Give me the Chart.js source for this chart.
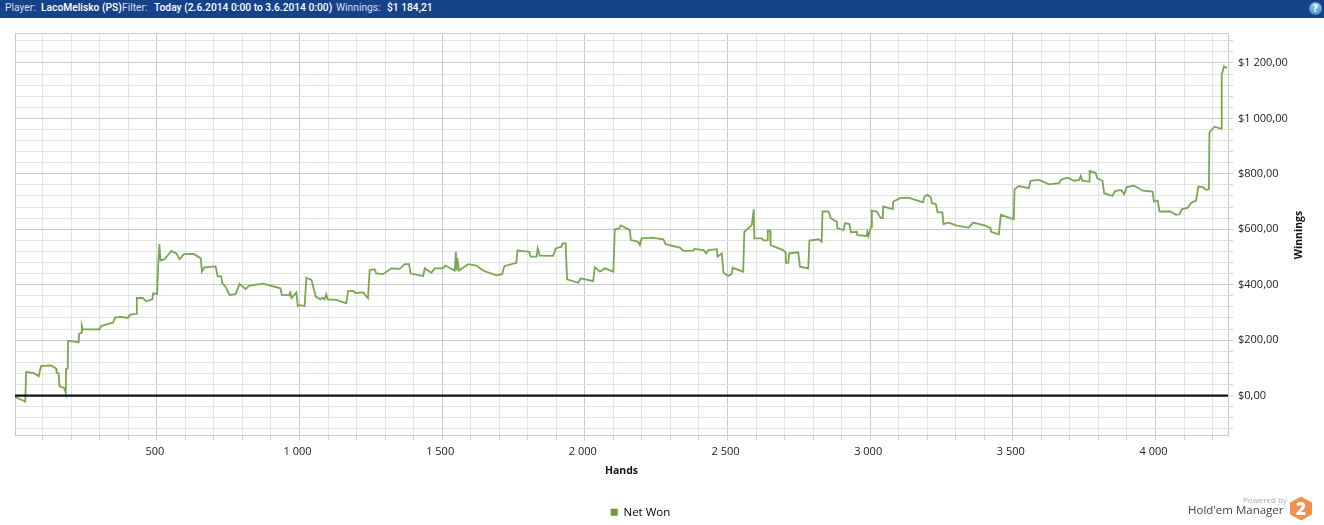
<!DOCTYPE html>
<html><head><meta charset="utf-8">
<script src="https://cdn.jsdelivr.net/npm/chart.js@4/dist/chart.umd.min.js"></script>
<style>
html,body{margin:0;padding:0;background:#fff;width:1324px;height:525px;overflow:hidden;font-family:"Open Sans",sans-serif}
#bar{position:absolute;left:0;top:0;width:1324px;height:18px;background:#16428a;color:#d5deee;font-family:Roboto,sans-serif;font-size:10.25px;line-height:16px;white-space:pre}
#bar span{position:absolute;top:0}
#bar b{font-weight:500;color:#fff}
#wrap{position:absolute;left:0;top:0;width:1324px;height:525px}
#help{position:absolute;left:1309px;top:2px;width:13px;height:13px;border-radius:50%;background:radial-gradient(circle at 50% 35%,#9fd0ee,#2a7fb8);color:#fff;font-size:10px;font-weight:700;line-height:13px;text-align:center}
#by{position:absolute;left:1243px;top:494px;font-size:8px;color:#aaa}
#hem{position:absolute;left:1188px;top:502px;font-size:11.5px;letter-spacing:0;color:#444}
#logo{position:absolute;left:1289px;top:496px}
</style></head><body>
<div id="wrap"><canvas id="c" width="1324" height="525"></canvas></div>
<div id="bar"><span style="left:5px">Player:</span><span style="left:41px"><b>LacoMelisko (PS)</b></span><span style="left:122px">Filter:</span><span style="left:154px"><b>Today (2.6.2014 0:00 to 3.6.2014 0:00)</b></span><span style="left:336px">Winnings:</span><span style="left:387px"><b>$1 184,21</b></span></div>
<div id="help">?</div>
<div id="by">Powered by</div>
<div id="hem">Hold'em Manager</div>
<svg id="logo" width="24" height="25" viewBox="0 0 24 25"><polygon points="12,0.5 23,6.5 23,18.5 12,24.5 1,18.5 1,6.5" fill="#f0914f"/><text x="12" y="18.5" font-family="Open Sans" font-weight="800" font-size="17" fill="#fff" text-anchor="middle">2</text></svg>
<script>
const hands=[3,39,42,71,86,94,130,147,149,156,159,176,181,182,188,189,226,228,236,237,240,299,305,346,355,375,398,407,428,430,451,463,484,487,501,505,509,513,527,551,568,580,595,629,654,658,667,706,713,726,729,743,755,776,790,811,823,872,933,938,963,968,972,989,994,1001,1018,1024,1042,1057,1073,1080,1088,1094,1099,1129,1164,1170,1187,1197,1223,1240,1246,1263,1269,1293,1322,1351,1369,1384,1389,1433,1439,1462,1474,1503,1511,1544,1548,1551,1553,1559,1591,1620,1643,1690,1710,1718,1760,1764,1805,1810,1831,1835,1842,1889,1898,1918,1922,1933,1934,1938,1977,1986,2029,2035,2053,2070,2100,2105,2120,2126,2158,2161,2187,2193,2199,2234,2275,2283,2333,2345,2380,2384,2416,2425,2433,2463,2465,2480,2486,2503,2515,2518,2555,2559,2585,2592,2594,2620,2628,2640,2641,2649,2651,2695,2704,2705,2713,2716,2748,2754,2783,2787,2819,2830,2833,2854,2862,2883,2885,2906,2912,2927,2933,2953,2955,2988,2990,2994,3003,3006,3023,3037,3044,3046,3079,3081,3105,3134,3185,3190,3201,3213,3216,3230,3236,3253,3257,3275,3304,3345,3361,3404,3422,3424,3451,3458,3503,3506,3521,3556,3562,3591,3627,3662,3668,3691,3715,3733,3738,3744,3767,3769,3790,3796,3814,3820,3849,3858,3879,3890,3899,3925,3955,3990,3994,4008,4014,4052,4072,4084,4092,4113,4125,4142,4150,4166,4177,4187,4189,4207,4231,4232,4240,4250];
const netWon=[-4,-22,86,80,70,106,109,98,82,80,34,27,8,96,98,198,192,223,227,252,240,239,251,263,282,284,280,292,295,352,352,340,347,369,366,477,547,487,492,522,513,492,510,511,495,447,463,466,431,429,407,389,363,366,403,384,396,404,387,363,362,372,352,372,323,326,323,425,417,357,347,353,347,366,347,345,333,377,378,370,372,351,453,456,441,438,459,457,474,474,441,431,459,443,459,459,469,451,519,451,496,451,474,469,451,434,438,467,479,523,519,501,501,531,505,504,531,537,549,549,507,419,407,423,413,463,447,459,447,600,603,614,597,561,555,543,567,570,564,546,534,522,523,529,525,513,525,528,501,513,443,432,439,461,447,591,615,672,567,567,559,561,595,595,543,525,516,479,479,513,517,465,459,559,564,555,664,664,640,627,604,597,622,619,589,591,579,576,591,576,609,667,664,640,640,682,673,700,712,714,697,718,724,714,694,691,661,661,619,624,613,606,624,613,604,591,582,652,636,744,756,748,775,778,762,766,778,786,775,778,793,775,772,810,804,784,775,730,720,738,742,726,752,757,739,736,700,703,664,664,652,654,672,678,696,703,754,752,742,744,950,970,962,1157,1188,1181];
const zeroHands=[3,4254];
const zeroLine=[0,0];
const xTicks=[3,100,200,300,400,500,600,700,800,900,1000,1100,1200,1300,1400,1500,1600,1700,1800,1900,2000,2100,2200,2300,2400,2500,2600,2700,2800,2900,3000,3100,3200,3300,3400,3500,3600,3700,3800,3900,4000,4100,4200,4254];
const xLabels=[500,1000,1500,2000,2500,3000,3500,4000];
const yTicks=[-144,-120,-80,-40,0,40,80,120,160,200,240,280,320,360,400,440,480,520,560,600,640,680,720,760,800,840,880,920,960,1000,1040,1080,1120,1160,1200,1240,1280,1308];
const yLabels=[0,200,400,600,800,1000,1200];
const yTitle='Winnings';
const fmtNum=v=>{const s=String(Math.abs(v));return s.length>3?s.slice(0,-3)+' '+s.slice(-3):s;};
const FONT='"Open Sans",sans-serif';
const pts=hands.map((h,i)=>({x:h,y:netWon[i]}));
const shiftLegend={id:'shiftLegend',afterLayout(c){c.legend.left-=29;c.legend.right-=29;c.legend.top+=3;c.legend.bottom+=3;}};
const rotTitle={id:'rotTitle',afterDraw(c){const x=c.ctx;x.save();x.translate(1299,235);x.rotate(-Math.PI/2);x.font='bold 10.5px '+FONT;x.fillStyle='#111';x.textAlign='center';x.textBaseline='middle';x.fillText(yTitle,0,0);x.restore();}};
new Chart(document.getElementById('c'),{
 type:'line',
 plugins:[shiftLegend,rotTitle],
 data:{datasets:[
  {label:'Zero',data:zeroHands.map((h,i)=>({x:h,y:zeroLine[i]})),borderColor:'#111',borderWidth:2.4,pointRadius:0,order:1},
  {label:'Net Won',data:pts,borderColor:'#79a853',backgroundColor:'#6b9b37',borderWidth:1.8,pointRadius:0,tension:0,order:2}
 ]},
 options:{responsive:false,animation:false,devicePixelRatio:1,
  layout:{padding:{left:15,top:33,right:0,bottom:0}},
  plugins:{tooltip:{enabled:false},
   legend:{position:'bottom',labels:{boxWidth:7,boxHeight:7,color:'#222',font:{family:FONT,size:11.5},padding:6,
     generateLabels:c=>[{text:'Net Won',fillStyle:'#6b9b37',strokeStyle:'#6b9b37',lineWidth:0,datasetIndex:1}]}}},
  scales:{
   x:{type:'linear',min:3,max:4254,
    afterBuildTicks:s=>{s.ticks=xTicks.map(v=>({value:v}));},
    afterFit:s=>{s.height=62;},
    grid:{color:c=>{const v=c.tick&&c.tick.value;return (v===3||v===4254||xLabels.includes(v))?'#c9c9c9':'#e3e3e3';},
      tickColor:c=>{const v=c.tick&&c.tick.value;return (v===3||v===4254)?'rgba(0,0,0,0)':'#d0d0d0';},tickLength:5},
    border:{display:false},
    ticks:{autoSkip:false,maxRotation:0,color:'#222',font:{family:FONT,size:11},padding:5,labelOffset:-2,
      callback:v=>xLabels.includes(v)?fmtNum(v):''},
    title:{display:true,text:'Hands',color:'#111',font:{family:FONT,size:10.5,weight:'bold'},padding:{top:8,bottom:20}}
   },
   y:{type:'linear',position:'right',min:-144,max:1308,
    afterBuildTicks:s=>{s.ticks=yTicks.map(v=>({value:v}));},
    afterFit:s=>{s.width=96;},
    grid:{color:c=>{const v=c.tick&&c.tick.value;return (v===-144||v===1308||yLabels.includes(v))?'#c9c9c9':'#e3e3e3';},
      tickColor:c=>{const v=c.tick&&c.tick.value;return (v===-144||v===1308)?'rgba(0,0,0,0)':'#d0d0d0';},tickLength:5},
    border:{display:false},
    ticks:{autoSkip:false,color:'#222',font:{family:FONT,size:11},padding:5,
      callback:v=>yLabels.includes(v)?'$'+fmtNum(v)+',00':''}
   }
  }
 }
});
</script>
</body></html>
